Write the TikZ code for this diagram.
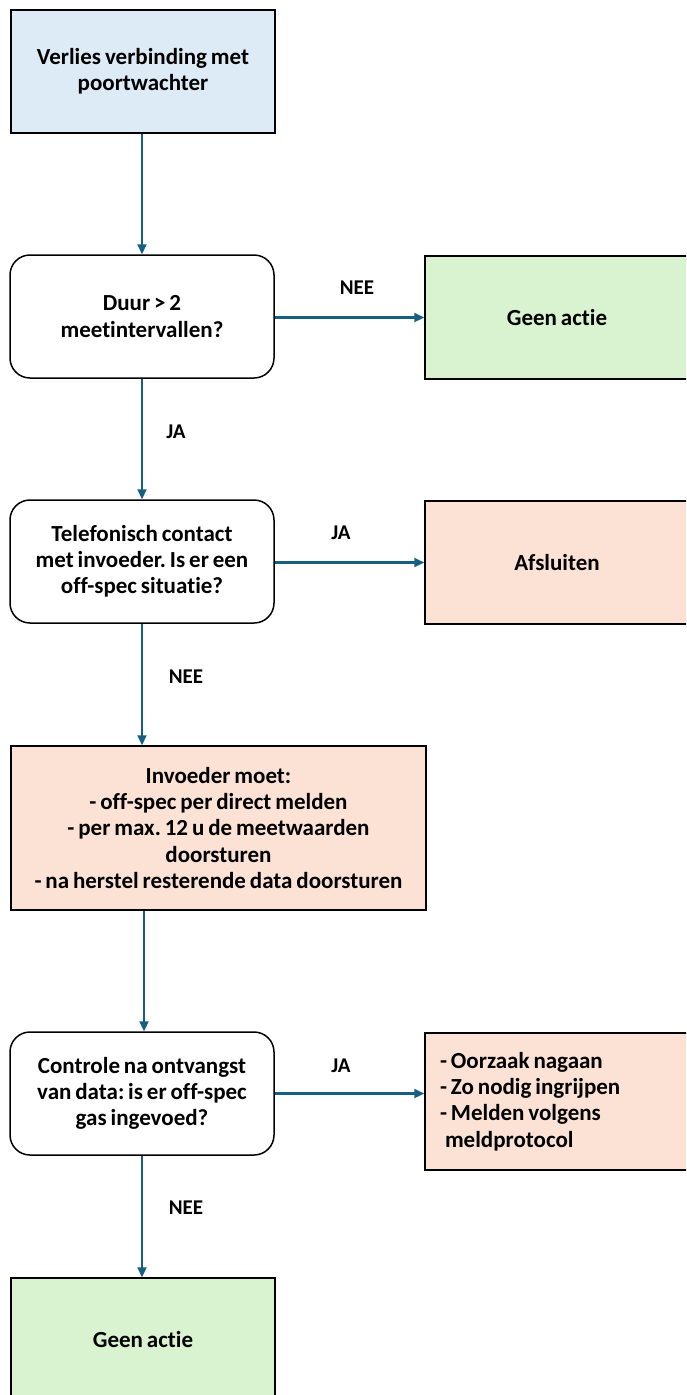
\documentclass[tikz,border=0pt]{standalone}
\usepackage{fontspec}
\setmainfont{Carlito}[Ligatures=NoCommon,WordSpace=0.75]
\usetikzlibrary{arrows.meta}
\definecolor{arrowc}{HTML}{156082}
\definecolor{blueF}{HTML}{DDEBF7}
\definecolor{greenF}{HTML}{D9F2D0}
\definecolor{peachF}{HTML}{FBE2D5}
\frenchspacing
\begin{document}
\begin{tikzpicture}[x=1pt,y=-1pt,
  box/.style={draw=black, line width=1.5pt, minimum width=264pt, minimum height=123pt, inner sep=0pt, align=center, font=\bfseries\frenchspacing\fontsize{23}{26.2}\selectfont},
  dec/.style={box, rounded corners=20pt, fill=white},
  arr/.style={draw=arrowc, line width=2.2pt, -{Triangle[length=10pt,width=9pt]}},
  lbl/.style={font=\bfseries\fontsize{21}{24}\selectfont, inner sep=0pt}]
\useasboundingbox (0,0) rectangle (686,1395);
\clip (0,0) rectangle (686,1395);
\node[box, fill=blueF] (start) at (143,71.5) {Verlies verbinding met\\poortwachter};
\node[dec] (d1) at (142,316.5) {Duur > 2\\meetintervallen?};
\node[box, fill=greenF] (g1) at (557,317.5) {Geen actie};
\node[dec] (d2) at (142,561.5) {Telefonisch contact\\met invoeder. Is er een\\off-spec situatie?};
\node[box, fill=peachF] (af) at (557,562.5) {Afsluiten};
\node[box, fill=peachF, minimum width=415pt, minimum height=164pt] (inv) at (218.5,828) {Invoeder moet:\\- off-spec per direct melden\\- per max. 12 u de meetwaarden\\doorsturen\\- na herstel resterende data doorsturen};
\node[dec] (d3) at (142,1093.5) {Controle na ontvangst\\van data: is er off-spec\\gas ingevoed?};
\node[box, fill=peachF, minimum height=137pt, text width=234pt, inner xsep=15pt, align=left] (r3) at (557,1101.5) {\spaceskip=0pt\xspaceskip=0pt\relax - Oorzaak nagaan\\- Zo nodig ingrijpen\\- Melden volgens\\\hspace*{5pt}meldprotocol};
\node[box, fill=greenF] (g2) at (143,1339.5) {Geen actie};
\draw[arr] (start.south -| d1.north) -- (d1.north);
\draw[arr] (d1.east |- g1.west) -- (g1.west);
\draw[arr] (d1.south) -- (d2.north);
\draw[arr] (d2.east |- af.west) -- (af.west);
\draw[arr] (d2.south) -- (inv.north -| d2.south);
\draw[arr] ([xshift=2pt]d3.north |- inv.south) -- ([xshift=2pt]d3.north);
\draw[arr] (d3.east) -- (d3.east -| r3.west);
\draw[arr] (d3.south) -- (g2.north -| d3.south);
\node[lbl] (l1) at (357,288) {NEE};
\node[lbl] (l2) at (176,432) {JA};
\node[lbl] (l3) at (341,533) {JA};
\node[lbl] (l4) at (186,677) {NEE};
\node[lbl] (l5) at (341,1066) {JA};
\node[lbl] (l6) at (186,1208) {NEE};
\end{tikzpicture}
\end{document}
